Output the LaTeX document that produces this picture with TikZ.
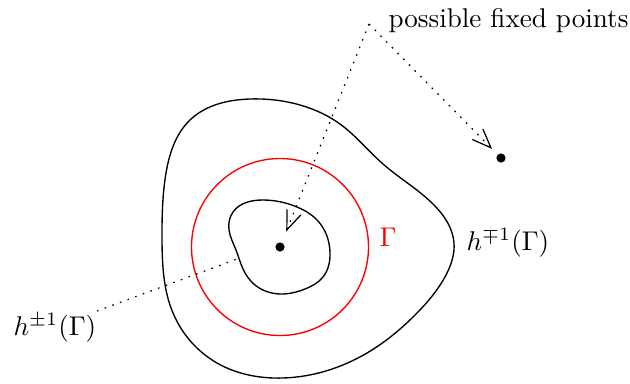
\documentclass[tikz,border=0pt]{standalone}
\usetikzlibrary{arrows.meta,hobby}
\begin{document}
\begin{tikzpicture}[x=0.369pt,y=-0.369pt,
  dotline/.style={line width=0.45pt,dash pattern=on 0.6pt off 2.4pt},
  barb/.style={-{Straight Barb[length=7pt,width=5.5pt,line width=0.45pt]}},
  fixdot/.style={circle,fill=black,inner sep=0pt,minimum size=3.4pt},
  curve/.style={line width=0.5pt}]
\useasboundingbox (0,0) rectangle (630,383);
% outer curve h^{-+1}(Gamma)
\draw[curve] plot[closed hobby] coordinates {(250,99) (300,105) (340,124) (383,164) (433,204) (454,243) (446,275) (417,313) (367,353) (283,378) (217,363) (173,313) (162,237) (166,173) (190,120)};
% red circle Gamma
\draw[red,line width=0.5pt] (280,247) circle[radius=88.5];
% inner curve h^{+-1}(Gamma)
\draw[curve] plot[closed hobby] coordinates {(263,200) (297,207) (318,221) (330,252) (323,277) (305,289) (280,294) (255,285) (243,269) (236,250) (229,230) (233,212)};
% dots
\node[fixdot] (c) at (280,247) {};
\node[fixdot] (p) at (501,158) {};
% labels
\node[anchor=base west,inner sep=0pt] (lab) at (388,27) {possible fixed points};
\node[anchor=base west,inner sep=0pt,text=red] (gam) at (379,246) {$\Gamma$};
\node[anchor=base west,inner sep=0pt] (hout) at (466,250) {$h^{\mp1}(\Gamma)$};
\node[anchor=base west,inner sep=0pt] (hin) at (13,335) {$h^{\pm1}(\Gamma)$};
\coordinate (apex) at (369,24);
\coordinate (hinA) at (97,311);
\coordinate (hinB) at (237,259);
% connectors
\draw[dotline,barb,shorten >=4.3pt] (apex) -- (c);
\draw[dotline,barb,shorten >=2.8pt] (apex) -- (p);
\draw[dotline] (hinA) -- (hinB);
\end{tikzpicture}
\end{document}
